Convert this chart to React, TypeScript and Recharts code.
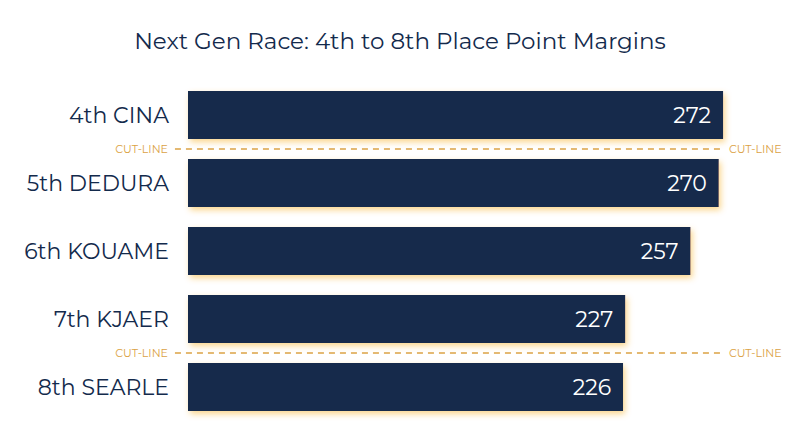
import React from "react";
import { BarChart, Bar, XAxis, YAxis, LabelList, ReferenceLine } from "recharts";

const drivers = ["4th CINA", "5th DEDURA", "6th KOUAME", "7th KJAER", "8th SEARLE"];
const points = [272, 270, 257, 227, 226];
// a cut-line sits above each of these drivers
const cutAbove = ["5th DEDURA", "8th SEARLE"];

const NAVY = "#132a4c";
const GOLD = "#dba244";
const FONT = "Montserrat, 'Noto Sans', sans-serif";

const data = drivers.map((name, i) => ({ name, points: points[i] }));

function CutLabel(props: any) {
  const { viewBox } = props;
  if (!viewBox) return null;
  const { x, y, width } = viewBox;
  return (
    <g fontFamily={FONT} fontSize={11} fill={GOLD}>
      <text x={x - 7} y={y} dy={4} textAnchor="end">CUT-LINE</text>
      <text x={x + width + 7} y={y} dy={4} textAnchor="start">CUT-LINE</text>
    </g>
  );
}

function DriverTick(props: any) {
  const { x, y, payload } = props;
  return (
    <text x={x - 11} y={y} dy={8} textAnchor="end" fill={NAVY} fontFamily={FONT} fontSize={22}>
      {payload.value}
    </text>
  );
}

export default function App() {
  return (
    <div style={{ position: "relative", width: 800, height: 447, margin: -8, background: "#fff" }}>
      <svg width={0} height={0} style={{ position: "absolute" }}>
        <defs>
          <filter id="barGlow" x="-10%" y="-30%" width="120%" height="170%">
            <feDropShadow dx={2} dy={3} stdDeviation={3} floodColor="#f5a300" floodOpacity={0.45} />
          </filter>
        </defs>
      </svg>
      <div
        style={{
          position: "absolute", top: 27, left: 0, width: 800, textAlign: "center",
          fontFamily: FONT, fontSize: 23, color: NAVY,
        }}
      >
        Next Gen Race: 4th to 8th Place Point Margins
      </div>
      <BarChart
        width={800}
        height={447}
        data={data}
        layout="vertical"
        margin={{ top: 81, right: 16, bottom: 26, left: 0 }}
        barSize={48}
      >
        <XAxis type="number" dataKey="points" domain={[26, 300]} hide />
        <YAxis
          type="category"
          dataKey="name"
          width={188}
          axisLine={false}
          tickLine={false}
          tick={<DriverTick />}
        />
        <Bar dataKey="points" fill={NAVY} filter="url(#barGlow)" isAnimationActive={false}>
          <LabelList dataKey="points" position="insideRight" offset={12} fill="#fff" fontFamily={FONT} fontSize={22} />
        </Bar>
        {cutAbove.map((name) => (
          <ReferenceLine
            key={name}
            segment={[{ x: 20, y: name }, { x: 271.5, y: name }]}
            position="start"
            ifOverflow="visible"
            stroke={GOLD}
            strokeWidth={1.5}
            strokeDasharray="6 5"
            label={<CutLabel />}
          />
        ))}
      </BarChart>
    </div>
  );
}
